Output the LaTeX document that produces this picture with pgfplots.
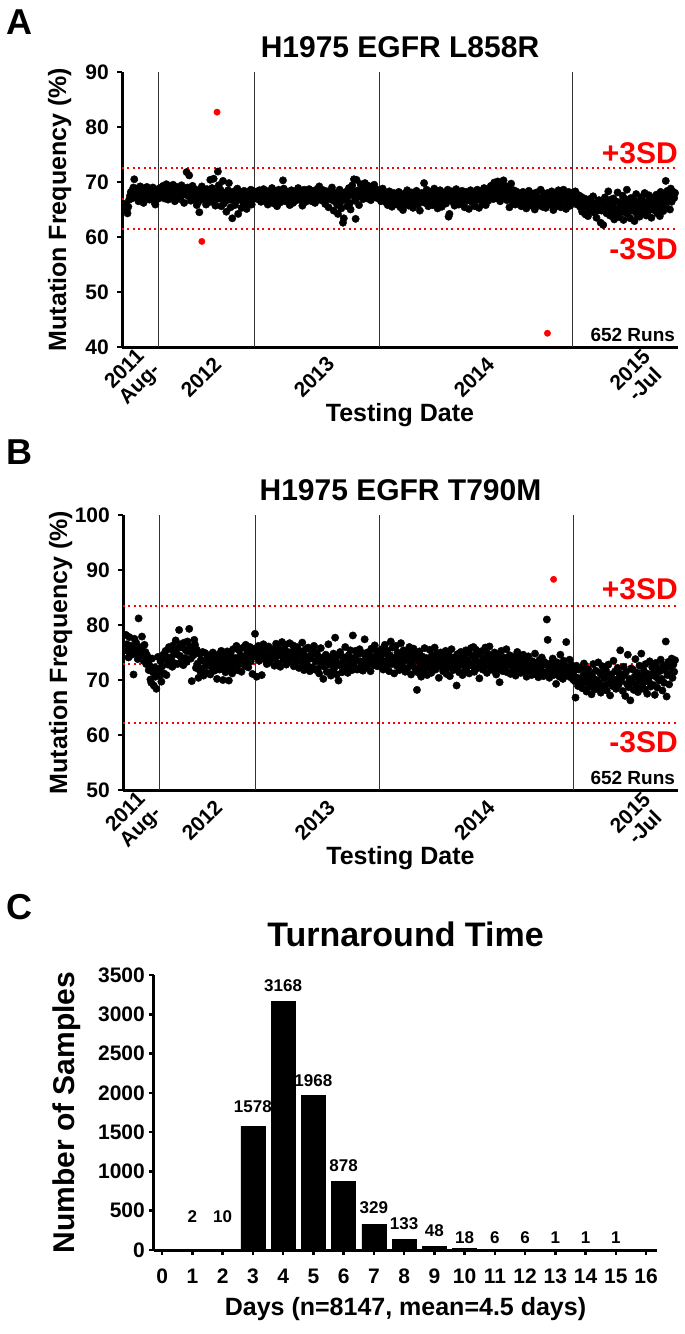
\documentclass[border=0pt]{standalone}
\usepackage{fontspec}
\setmainfont{Liberation Sans}
\usepackage{pgfplots}
\usepackage{pgfplotstable}
\pgfplotsset{compat=1.18}
\newcommand{\fs}[1]{\bfseries\fontsize{#1}{#1}\selectfont}

% Panel A: mutation frequency (%) per run, L858R (black points)
\pgfplotstableread[row sep=\\]{
y\\
66.0\\65.2\\64.8\\64.3\\65.5\\66.8\\67.5\\68.2\\67.0\\68.5\\69.0\\70.5\\68.0\\67.2\\68.8\\67.6\\66.5\\68.3\\69.2\\67.8\\68.6\\67.1\\66.2\\68.9\\68.0\\67.4\\69.1\\68.4\\67.9\\66.8\\68.7\\67.3\\68.1\\69.0\\67.5\\66.3\\65.9\\67.8\\68.6\\68.2\\67.0\\68.9\\67.6\\
68.2\\67.5\\69.3\\68.8\\67.0\\68.5\\69.6\\68.1\\66.8\\67.9\\69.2\\68.6\\67.3\\68.9\\69.5\\68.0\\66.5\\67.7\\68.4\\69.1\\
67.2\\68.7\\66.9\\68.3\\69.4\\67.6\\68.0\\66.2\\67.9\\68.8\\71.8\\69.0\\67.4\\71.2\\68.5\\66.6\\67.8\\69.3\\68.1\\66.9\\
67.5\\68.6\\65.8\\67.2\\66.4\\64.5\\67.0\\68.3\\69.2\\67.6\\66.8\\68.0\\67.3\\65.9\\68.7\\67.1\\66.3\\68.4\\70.4\\67.7\\
68.9\\66.5\\70.6\\67.4\\65.7\\68.2\\66.9\\71.9\\69.4\\67.0\\68.6\\65.6\\67.8\\70.2\\66.1\\68.0\\67.3\\64.6\\66.7\\68.5\\
69.8\\67.2\\65.4\\66.8\\63.4\\67.9\\68.3\\65.8\\66.4\\67.6\\68.8\\64.2\\66.9\\67.5\\68.1\\65.3\\67.0\\66.2\\68.4\\67.8\\
66.6\\65.1\\67.7\\68.2\\66.0\\67.4\\68.6\\65.9\\66.8\\67.9\\68.3\\67.1\\
67.5\\68.2\\66.9\\67.8\\68.5\\67.1\\66.4\\68.0\\67.6\\68.7\\66.8\\67.3\\68.4\\67.0\\65.9\\67.7\\68.1\\66.6\\67.4\\68.9\\
67.2\\66.1\\68.3\\67.9\\66.7\\65.6\\67.5\\68.6\\67.0\\66.3\\68.0\\67.4\\70.3\\68.8\\67.1\\66.5\\67.9\\68.2\\66.9\\67.6\\
65.8\\67.3\\68.5\\67.0\\66.2\\68.1\\67.7\\66.6\\68.4\\67.2\\68.9\\67.5\\66.8\\68.0\\67.4\\65.7\\67.9\\68.6\\67.1\\66.4\\
68.3\\67.8\\66.9\\68.7\\67.3\\68.1\\66.5\\67.6\\68.4\\67.0\\66.2\\68.2\\67.5\\68.8\\67.1\\69.2\\67.9\\66.7\\68.0\\67.4\\
68.5\\67.2\\66.0\\67.7\\68.3\\67.0\\65.4\\68.1\\67.6\\66.8\\69.0\\67.3\\64.8\\66.5\\68.0\\67.8\\65.9\\64.2\\67.4\\68.6\\
66.3\\65.2\\67.9\\62.6\\63.4\\66.8\\68.2\\67.1\\65.6\\67.5\\68.9\\66.1\\65.0\\67.7\\69.4\\68.3\\70.5\\66.6\\63.3\\70.4\\
67.2\\68.5\\65.8\\67.9\\69.6\\68.1\\67.4\\66.9\\68.7\\69.8\\67.6\\68.2\\67.0\\69.3\\68.4\\67.8\\66.7\\68.9\\67.3\\68.0\\69.5\\67.5\\68.3\\67.1\\68.6\\67.9\\
68.4\\67.2\\66.5\\67.9\\68.8\\66.9\\67.5\\68.1\\66.3\\67.7\\65.8\\67.0\\68.3\\66.6\\67.4\\65.5\\66.9\\68.0\\67.1\\66.2\\
67.8\\65.9\\66.7\\68.2\\67.3\\65.4\\66.8\\67.6\\64.9\\66.4\\67.9\\66.0\\67.2\\68.5\\66.6\\65.7\\67.4\\66.1\\68.1\\67.0\\
65.3\\66.8\\67.7\\66.3\\68.4\\67.5\\65.9\\66.7\\64.8\\67.1\\68.0\\66.5\\67.8\\69.8\\66.2\\67.3\\68.6\\66.9\\65.6\\67.6\\
66.4\\68.2\\67.0\\65.8\\66.7\\68.8\\67.4\\66.0\\67.9\\65.2\\66.6\\67.3\\68.5\\66.8\\65.5\\67.7\\66.3\\68.1\\67.2\\66.1\\
67.9\\68.6\\63.7\\64.2\\66.9\\67.5\\68.3\\66.4\\67.8\\65.7\\67.1\\68.7\\66.5\\67.6\\65.9\\68.0\\67.2\\66.2\\68.4\\67.7\\
66.8\\65.4\\67.9\\68.2\\66.6\\67.3\\65.1\\66.9\\68.5\\67.0\\66.3\\67.8\\68.1\\65.6\\67.4\\66.7\\68.6\\67.1\\65.3\\66.8\\
68.3\\67.5\\66.0\\67.7\\68.9\\66.4\\65.8\\67.2\\68.0\\66.6\\67.9\\68.7\\69.3\\67.4\\68.5\\66.9\\69.9\\68.2\\67.1\\68.8\\
70.1\\67.6\\68.4\\66.5\\69.5\\68.0\\67.3\\70.3\\68.6\\67.8\\69.2\\66.7\\68.9\\67.5\\65.4\\68.1\\69.7\\67.2\\66.4\\68.5\\
67.0\\65.9\\68.3\\66.8\\67.7\\68.0\\66.1\\67.4\\65.6\\66.9\\68.2\\67.1\\66.3\\67.8\\65.2\\66.6\\67.5\\68.4\\66.0\\67.3\\
65.7\\66.8\\67.9\\66.2\\65.0\\67.6\\68.1\\66.5\\67.2\\65.8\\66.7\\68.6\\67.0\\65.5\\66.4\\67.9\\66.9\\65.3\\67.4\\68.0\\
66.1\\67.7\\65.9\\66.6\\68.3\\67.1\\64.9\\66.3\\67.8\\66.8\\65.6\\67.5\\68.5\\66.0\\67.2\\65.4\\66.7\\67.9\\68.6\\66.5\\
67.3\\65.1\\66.2\\67.6\\68.2\\66.9\\65.7\\67.4\\68.0\\66.6\\
67.8\\66.5\\68.3\\67.1\\65.9\\66.8\\67.6\\66.2\\65.4\\67.3\\64.6\\66.0\\65.7\\67.0\\64.1\\65.5\\66.6\\63.8\\65.2\\66.9\\
64.7\\66.3\\65.0\\67.4\\65.8\\64.4\\66.1\\63.5\\65.6\\64.9\\66.7\\65.3\\62.6\\64.8\\66.4\\62.2\\65.1\\67.2\\65.9\\64.3\\
66.0\\68.3\\65.4\\63.9\\66.8\\64.6\\65.7\\67.0\\63.2\\65.0\\66.5\\64.0\\68.1\\65.2\\63.6\\66.2\\64.7\\65.8\\67.5\\63.1\\
64.5\\66.9\\65.6\\68.6\\64.2\\66.3\\65.1\\63.4\\67.1\\65.9\\64.8\\66.6\\62.9\\65.3\\67.8\\64.1\\66.0\\65.5\\63.7\\66.7\\
65.0\\67.3\\64.4\\66.1\\68.0\\65.7\\63.9\\66.4\\64.6\\67.6\\65.2\\66.8\\63.5\\65.9\\67.2\\64.9\\66.2\\65.4\\67.7\\64.3\\
66.5\\65.1\\63.8\\68.2\\66.9\\65.6\\64.7\\67.4\\66.0\\70.2\\65.3\\68.4\\66.8\\67.9\\65.0\\68.8\\66.4\\67.5\\68.2\\67.1\\68.0\\
}\tabA

% Panel B: mutation frequency (%) per run, T790M (black points)
\pgfplotstableread[row sep=\\]{
y\\
78.2\\76.5\\75.3\\74.1\\77.8\\75.0\\76.2\\74.6\\75.8\\71.0\\77.5\\74.9\\76.8\\75.4\\73.8\\81.2\\76.0\\74.3\\75.6\\77.9\\
74.8\\73.5\\76.4\\75.1\\72.9\\74.5\\73.2\\71.8\\72.6\\70.1\\69.5\\73.9\\71.4\\69.0\\72.3\\70.6\\68.4\\71.7\\74.2\\72.0\\70.8\\73.4\\69.7\\
72.5\\74.6\\71.2\\73.8\\75.3\\70.9\\74.1\\72.8\\76.0\\73.5\\75.6\\74.2\\72.4\\76.3\\73.1\\75.0\\77.2\\74.7\\72.9\\75.8\\
79.1\\74.4\\76.5\\73.6\\75.9\\72.7\\76.8\\74.0\\75.4\\73.3\\77.0\\75.2\\79.3\\76.1\\73.9\\69.8\\75.7\\74.5\\77.3\\76.4\\
72.2\\75.5\\73.0\\70.4\\74.8\\71.6\\73.7\\72.1\\75.1\\70.8\\73.4\\74.9\\72.6\\71.3\\74.3\\72.9\\73.6\\71.0\\74.6\\72.3\\
75.0\\73.2\\71.7\\74.1\\72.5\\70.2\\73.8\\74.7\\71.9\\72.8\\75.3\\73.5\\70.0\\72.4\\74.4\\71.4\\73.1\\75.2\\72.0\\69.9\\
73.9\\74.8\\72.7\\71.2\\75.6\\73.3\\72.1\\74.0\\76.2\\71.8\\73.6\\75.4\\72.9\\74.5\\71.5\\73.0\\75.9\\74.2\\72.6\\76.4\\
73.7\\75.1\\72.3\\74.9\\76.0\\73.4\\74.6\\71.1\\75.5\\74.3\\78.4\\75.8\\
70.6\\74.8\\76.2\\73.5\\75.7\\74.1\\70.9\\75.0\\76.5\\73.8\\74.6\\75.9\\72.9\\74.3\\76.1\\73.2\\75.4\\74.7\\73.9\\75.6\\
74.0\\72.6\\75.2\\76.6\\74.4\\73.1\\75.8\\74.9\\72.4\\75.3\\76.9\\74.2\\73.6\\75.5\\76.4\\72.8\\74.5\\75.1\\73.3\\76.7\\
75.0\\73.8\\74.6\\76.3\\72.5\\75.7\\74.1\\73.4\\76.0\\74.8\\72.2\\75.3\\73.7\\74.9\\76.8\\73.0\\71.8\\74.4\\75.6\\73.5\\
72.7\\75.9\\74.2\\71.6\\73.9\\75.2\\72.3\\74.7\\76.2\\71.9\\73.4\\75.0\\72.0\\74.3\\71.2\\73.6\\75.8\\72.6\\74.0\\70.2\\
73.1\\72.4\\74.6\\71.5\\73.8\\76.5\\72.9\\74.1\\70.8\\73.3\\71.7\\74.8\\72.2\\77.7\\73.5\\71.0\\74.4\\69.9\\72.7\\75.1\\
73.0\\71.4\\74.2\\72.5\\73.7\\76.0\\72.1\\73.9\\71.3\\74.5\\72.8\\75.4\\73.2\\71.8\\78.1\\74.0\\72.4\\75.3\\73.6\\71.9\\
74.7\\72.0\\75.6\\73.4\\72.6\\74.9\\71.7\\73.1\\77.4\\74.3\\72.3\\75.0\\73.8\\72.9\\74.6\\71.6\\75.7\\73.3\\74.1\\72.7\\76.3\\73.5\\75.2\\72.5\\74.8\\73.7\\
74.2\\72.8\\75.6\\73.5\\71.9\\74.8\\76.4\\73.1\\72.4\\75.3\\73.8\\71.6\\74.5\\77.0\\72.9\\75.9\\73.4\\71.2\\74.1\\76.2\\
72.6\\75.0\\73.7\\71.8\\74.6\\76.7\\73.0\\72.3\\75.4\\74.0\\71.5\\73.6\\75.1\\72.2\\74.4\\76.0\\73.3\\71.0\\74.9\\72.7\\
75.7\\73.9\\72.0\\74.7\\68.2\\71.4\\73.5\\75.2\\72.5\\70.6\\74.3\\73.1\\71.7\\75.8\\72.8\\74.0\\70.9\\73.6\\72.3\\75.5\\
73.0\\71.3\\74.6\\72.1\\73.8\\75.9\\71.9\\73.2\\74.8\\72.6\\70.4\\73.7\\75.0\\72.4\\74.2\\71.6\\73.4\\72.9\\75.3\\71.1\\
73.9\\72.2\\74.5\\70.7\\73.3\\75.6\\72.7\\71.8\\74.1\\73.5\\72.0\\69.0\\74.7\\72.5\\71.4\\73.8\\75.1\\72.8\\70.9\\74.3\\
73.1\\71.7\\75.4\\72.3\\73.6\\74.9\\71.2\\73.0\\75.8\\72.6\\74.4\\76.0\\71.5\\73.7\\75.5\\72.1\\74.6\\73.2\\70.3\\72.9\\
75.2\\73.4\\71.9\\74.0\\72.4\\75.9\\73.8\\71.3\\74.8\\72.7\\76.1\\73.5\\72.2\\74.3\\71.8\\73.1\\75.0\\72.5\\71.0\\73.9\\
74.7\\72.0\\69.6\\73.3\\75.3\\72.8\\71.6\\74.1\\73.0\\72.3\\75.6\\71.4\\73.6\\72.9\\74.5\\71.1\\72.6\\73.8\\71.7\\74.2\\
72.4\\70.8\\73.2\\75.1\\71.9\\72.7\\74.0\\71.3\\73.5\\72.1\\74.6\\71.6\\72.8\\73.7\\70.6\\72.5\\74.3\\71.8\\73.0\\72.2\\
70.9\\73.4\\71.5\\72.6\\74.8\\71.0\\73.1\\72.3\\70.5\\73.6\\72.0\\71.2\\74.1\\72.7\\70.7\\73.3\\71.4\\72.9\\81.0\\77.3\\
71.7\\70.4\\73.0\\72.4\\71.1\\73.9\\70.9\\72.6\\71.5\\69.3\\73.2\\71.8\\72.1\\70.6\\74.6\\71.3\\72.8\\70.2\\73.5\\71.9\\
72.5\\76.9\\70.8\\72.2\\71.0\\73.7\\70.5\\72.7\\71.6\\70.1\\
71.5\\69.8\\66.8\\72.6\\70.4\\68.9\\71.9\\70.1\\69.3\\72.3\\68.5\\70.8\\73.0\\69.6\\71.4\\67.9\\70.2\\72.0\\68.7\\69.9\\
71.1\\67.4\\70.6\\72.9\\69.2\\68.3\\71.7\\70.0\\68.8\\73.2\\69.5\\71.3\\67.7\\70.9\\72.5\\68.6\\70.3\\69.0\\71.8\\68.1\\
70.7\\72.8\\69.4\\67.2\\71.0\\70.4\\68.9\\73.5\\69.7\\71.6\\68.4\\70.1\\72.2\\69.1\\71.2\\75.4\\69.8\\70.5\\68.0\\72.4\\
70.9\\67.1\\71.5\\69.3\\74.6\\68.7\\70.2\\66.3\\72.1\\69.6\\71.9\\68.2\\70.6\\73.8\\69.0\\71.3\\67.8\\70.0\\72.6\\68.5\\
74.8\\70.7\\69.4\\71.7\\68.3\\72.9\\70.3\\67.5\\71.1\\69.7\\73.4\\68.8\\70.8\\72.3\\69.1\\71.4\\67.3\\73.1\\70.5\\68.6\\
72.0\\69.9\\71.6\\73.7\\70.2\\68.1\\72.7\\69.5\\71.8\\77.0\\67.0\\70.9\\73.3\\69.2\\72.4\\71.1\\73.9\\70.4\\72.8\\71.5\\73.6\\
}\tabB

% Panel C: turnaround time histogram
\pgfplotstableread{
day count laby
1   2     344
2   10    344
3   1578  1744
4   3168  3284
5   1968  2087
6   878   1005
7   329   471
8   133   267
9   48    178
10  18    89
11  6     89
12  6     89
13  1     89
14  1     89
15  1     89
}\tabC

\pgfplotsset{
  qcstyle/.style={
    scale only axis, anchor=north west, height=275pt,
    xmin=-2.5, xmax=655.5,
    axis x line*=bottom, axis y line*=left,
    axis line style={line width=3pt, -},
    tick align=outside, major tick length=5pt,
    ytick style={line width=2.5pt, black},
    xtick style={draw=none},
    /pgf/number format/assume math mode=true,
    xtick={20.5,100.8,234.5,423.8,617},
    xticklabels={{2011\\Aug-},2012,2013,2014,{2015\\-Jul}},
    x tick label style={rotate=45, anchor=east, align=center, inner sep=0pt,
      font=\fs{21}, yshift=-12pt},
    y tick label style={font=\fs{21}, inner sep=0pt, xshift=-8pt},
    title style={font=\fs{30}, anchor=base, at={(axis description cs:0.5,1)}, yshift=9pt, inner sep=0pt},
    xlabel={Testing Date},
    xlabel style={font=\fs{25}, anchor=base, at={(axis description cs:0.5,0)}, yshift=-74pt, inner sep=0pt},
    ylabel={Mutation Frequency (\%)},
    ylabel style={font=\fs{25}, anchor=base, at={(axis description cs:-0.1007,0.5)}, inner sep=0pt},
    clip=false,
  },
  blk/.style={only marks, mark=*, mark size=3.7pt, black, mark options={draw=black, fill=black}},
  red dot/.style={only marks, mark=*, mark size=3.2pt, red, mark options={draw=red, fill=red}},
  sd/.style={red, line width=2pt, dash pattern=on 2pt off 3.4pt},
  vl/.style={black!80, line width=0.9pt},
}

\begin{document}
\begin{tikzpicture}
\useasboundingbox (0,0) rectangle (685pt,-1334pt);

% ---------------- Panel A ----------------
\node[anchor=base west, font=\fs{36}, inner sep=0] at (6pt,-34pt) {A};
\begin{axis}[qcstyle, at={(122pt,-72pt)}, width=556pt,
  ymin=40, ymax=90, ytick={40,50,...,90},
  title={H1975 EGFR L858R}]
  \addplot[vl] coordinates {(41.2,40) (41.2,90)};
  \addplot[vl] coordinates {(154.8,40) (154.8,90)};
  \addplot[vl] coordinates {(301.6,40) (301.6,90)};
  \addplot[vl] coordinates {(531.1,40) (531.1,90)};
  \addplot[blk] table[x expr=\coordindex+1, y=y] {\tabA};
  \addplot[red dot] coordinates {(92,59.2) (110,82.7) (501,42.5)};
  \addplot[sd] coordinates {(-2.5,72.6) (655.5,72.6)};
  \addplot[sd] coordinates {(-2.5,67.0) (655.5,67.0)};
  \addplot[sd] coordinates {(-2.5,61.4) (655.5,61.4)};
  \node[anchor=base east, text=red, font=\fs{30}, inner sep=0] at (rel axis cs:1.0,0.669) {+3SD};
  \node[anchor=base east, text=red, font=\fs{30}, inner sep=0] at (rel axis cs:1.0,0.32) {-3SD};
  \node[anchor=base east, font=\fs{19}, inner sep=0] at (rel axis cs:0.995,0.02) {652 Runs};
\end{axis}

% ---------------- Panel B ----------------
\node[anchor=base west, font=\fs{36}, inner sep=0] at (6pt,-464pt) {B};
\begin{axis}[qcstyle, at={(123pt,-515pt)}, width=555pt,
  ymin=50, ymax=100, ytick={50,60,...,100},
  title={H1975 EGFR T790M}]
  \addplot[vl] coordinates {(41.2,50) (41.2,100)};
  \addplot[vl] coordinates {(154.8,50) (154.8,100)};
  \addplot[vl] coordinates {(301.6,50) (301.6,100)};
  \addplot[vl] coordinates {(531.1,50) (531.1,100)};
  \addplot[blk] table[x expr=\coordindex+1, y=y] {\tabB};
  \addplot[red dot] coordinates {(508,88.3)};
  \addplot[sd] coordinates {(-2.5,83.5) (655.5,83.5)};
  \addplot[sd] coordinates {(-2.5,72.9) (655.5,72.9)};
  \addplot[sd] coordinates {(-2.5,62.2) (655.5,62.2)};
  \node[anchor=base east, text=red, font=\fs{30}, inner sep=0] at (rel axis cs:1.0,0.691) {+3SD};
  \node[anchor=base east, text=red, font=\fs{30}, inner sep=0] at (rel axis cs:1.0,0.135) {-3SD};
  \node[anchor=base east, font=\fs{19}, inner sep=0] at (rel axis cs:0.995,0.02) {652 Runs};
\end{axis}

% ---------------- Panel C ----------------
\node[anchor=base west, font=\fs{36}, inner sep=0] at (6pt,-919pt) {C};
\begin{axis}[at={(154pt,-975pt)}, anchor=north west, scale only axis,
  width=503pt, height=275pt,
  xmin=-0.27, xmax=16.36, ymin=0, ymax=3500,
  axis x line*=bottom, axis y line*=left,
  axis line style={line width=3pt, -},
  tick align=outside, major tick length=5pt,
  tick style={line width=2.5pt, black},
  xtick={0,1,...,16}, ytick={0,500,...,3500},
  scaled y ticks=false,
  /pgf/number format/assume math mode=true,
  /pgf/number format/set thousands separator={},
  x tick label style={font=\fs{21}, inner sep=0pt, yshift=-14pt},
  y tick label style={font=\fs{21}, inner sep=0pt, xshift=-4pt},
  title={Turnaround Time},
  title style={font=\fs{34}, anchor=base, at={(axis description cs:0.5,1)}, yshift=23pt, inner sep=0pt},
  xlabel={Days (n=8147, mean=4.5 days)},
  xlabel style={font=\fs{25}, anchor=base, at={(axis description cs:0.5,0)}, yshift=-65pt, inner sep=0pt},
  ylabel={Number of Samples},
  ylabel style={font=\fs{30}, anchor=base, at={(axis description cs:-0.159,0.5)}, inner sep=0pt},
  clip=false]
  \addplot[ybar, bar width=24pt, fill=black, draw=black] table[x=day, y=count] {\tabC};
  \addplot[only marks, mark=none, nodes near coords, point meta=explicit symbolic,
    nodes near coords style={font=\fs{17}, anchor=base, inner sep=0pt}]
    table[x=day, y=laby, meta=count] {\tabC};
\end{axis}
\end{tikzpicture}
\end{document}
